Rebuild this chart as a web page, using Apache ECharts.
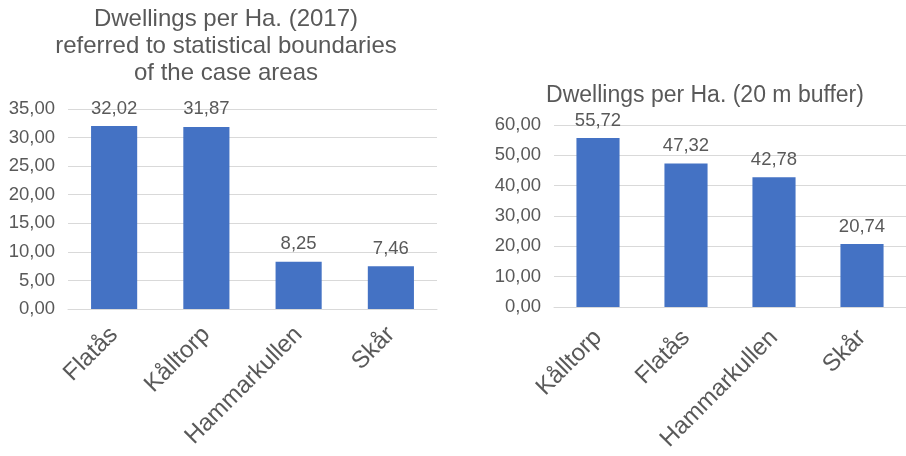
<!DOCTYPE html>
<html>
<head>
<meta charset="utf-8">
<script src="https://cdn.jsdelivr.net/npm/echarts@6/dist/echarts.min.js"></script>
<style>
  html, body { margin: 0; padding: 0; background: #ffffff; }
  #chart { width: 906px; height: 456px; }
</style>
</head>
<body>
<div id="chart"></div>
<script>
// Dwellings per hectare, statistical boundaries (2017)
const areasStat = ['Flatås', 'Kålltorp', 'Hammarkullen', 'Skår'];
const densityStat = [32.02, 31.87, 8.25, 7.46];

// Dwellings per hectare, 20 m buffer
const areasBuffer = ['Kålltorp', 'Flatås', 'Hammarkullen', 'Skår'];
const densityBuffer = [55.72, 47.32, 42.78, 20.74];

const titleStat = 'Dwellings per Ha. (2017)\nreferred to statistical boundaries\nof the case areas';
const titleBuffer = 'Dwellings per Ha. (20 m buffer)';

const FONT = '"Liberation Sans", Arial, sans-serif';
const TEXT = '#595959';
const BAR = '#4472C4';
const GRID = '#D9D9D9';

const fmt = v => v.toFixed(2).replace('.', ',');

function xAxisFor(idx, cats, margin) {
  return {
    type: 'category', gridIndex: idx, data: cats,
    axisTick: { show: false },
    axisLine: { lineStyle: { color: GRID, width: 1 } },
    axisLabel: { rotate: 45, color: TEXT, fontSize: 24, fontFamily: FONT, margin: margin, interval: 0 }
  };
}
function yAxisFor(idx, max, step) {
  return {
    type: 'value', gridIndex: idx, min: 0, max: max, interval: step,
    axisLine: { show: false }, axisTick: { show: false },
    splitLine: { lineStyle: { color: GRID, width: 1 } },
    axisLabel: { color: TEXT, fontSize: 18.5, fontFamily: FONT, margin: 13, formatter: v => fmt(v) }
  };
}
function barsFor(idx, values, width) {
  return {
    type: 'bar', xAxisIndex: idx, yAxisIndex: idx, data: values,
    barWidth: width,
    itemStyle: { color: BAR },
    label: { show: true, position: 'top', distance: 8, color: TEXT, fontSize: 18.5, fontFamily: FONT,
             formatter: p => fmt(p.value) }
  };
}

const chart = echarts.init(document.getElementById('chart'), null, { renderer: 'canvas' });
chart.setOption({
  backgroundColor: '#ffffff',
  animation: false,
  title: [
    { text: titleStat, left: 226, top: 6, textAlign: 'center', padding: 0,
      textStyle: { color: TEXT, fontSize: 24, fontWeight: 'normal', fontFamily: FONT, lineHeight: 27 } },
    { text: titleBuffer, left: 705, top: 84, textAlign: 'center', padding: 0,
      textStyle: { color: TEXT, fontSize: 23, fontWeight: 'normal', fontFamily: FONT } }
  ],
  grid: [
    { left: 68, right: 469, top: 109, bottom: 147 },
    { left: 554, right: 0, top: 125, bottom: 149 }
  ],
  xAxis: [xAxisFor(0, areasStat, 22), xAxisFor(1, areasBuffer, 27)],
  yAxis: [yAxisFor(0, 35, 5), yAxisFor(1, 60, 10)],
  series: [barsFor(0, densityStat, '50%'), barsFor(1, densityBuffer, '49%')]
});
</script>
</body>
</html>
